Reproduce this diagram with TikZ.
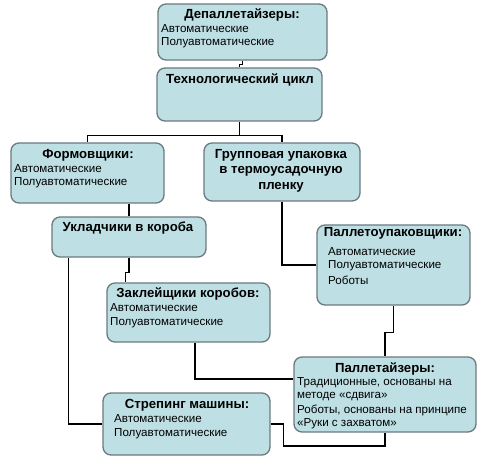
\documentclass[tikz,border=0pt]{standalone}
\usepackage{fontspec}
\setmainfont{Liberation Sans}
\usetikzlibrary{calc}
\definecolor{boxfill}{HTML}{BEE0E4}
\definecolor{boxline}{HTML}{6A7A7E}
\tikzset{
  box/.style={draw=boxline, line width=1.3pt, fill=boxfill, rounded corners=8pt, inner sep=0pt},
  ttl/.style={font=\bfseries\fontsize{13.2pt}{15pt}\selectfont, inner sep=0pt, anchor=center},
  itm/.style={font=\fontsize{11.6pt}{13pt}\selectfont, inner sep=0pt, anchor=west},
  conn/.style={draw=black, line width=1.4pt},
}
\begin{document}
\begin{tikzpicture}[x=1pt,y=-1pt]
\useasboundingbox (0,0) rectangle (483,460);
% boxes
\node[box, minimum width=169pt, minimum height=56pt] (dep) at (242.5,32) {};
\node[box, minimum width=165pt, minimum height=53pt] (tc) at (239.5,94.5) {};
\node[box, minimum width=153pt, minimum height=60pt] (form) at (87.5,173) {};
\node[box, minimum width=156pt, minimum height=58pt] (grp) at (282,172) {};
\node[box, minimum width=154pt, minimum height=40pt] (ukl) at (129,237) {};
\node[box, minimum width=153pt, minimum height=80pt] (pup) at (393.5,265) {};
\node[box, minimum width=163pt, minimum height=59pt] (zak) at (188.5,312.5) {};
\node[box, minimum width=182pt, minimum height=75pt] (pal) at (385,394.5) {};
\node[box, minimum width=167pt, minimum height=62pt] (str) at (186.5,424) {};
% connectors
\draw[conn] (dep.south) -- ++(0,4) -| (tc.north);
\draw[conn] (tc.south) -- ++(0,14) coordinate (split) -| (form.north);
\draw[conn] (split) -| (grp.north);
\draw[conn] (ukl.north) -- (ukl.north |- form.south);
\draw[conn] (ukl.south) -- ++(0,15) -| ($(zak.north west)+(19,0)$);
\draw[conn] ($(ukl.south west)+(17,0)$) |- (str.west);
\draw[conn] (grp.south) |- (pup.west);
\draw[conn] (pup.south) -- ++(0,27) -| (pal.north);
\draw[conn] ($(zak.south)+(6.5,0)$) |- ($(pal.west)+(0,-15.5)$);
\draw[conn] (str.east) -- ++(13,0) -- ++(0,22) -| (pal.south);
% texts
\node[ttl] (t1) at (242,15) {Депаллетайзеры:};
\node[itm] (t1a) at (161,29) {Автоматические};
\node[itm] (t1b) at (161,43) {Полуавтоматические};
\node[ttl] (t2) at (240,80) {Технологический цикл};
\node[ttl] (t3) at (88,155) {Формовщики:};
\node[itm] (t3a) at (14,169) {Автоматические};
\node[itm] (t3b) at (14,183) {Полуавтоматические};
\node[ttl] (t4a) at (281,155) {Групповая упаковка};
\node[ttl] (t4b) at (281,171) {в термоусадочную};
\node[ttl] (t4c) at (281,187) {пленку};
\node[ttl] (t5) at (128,228) {Укладчики в короба};
\node[ttl] (t6) at (393,233) {Паллетоупаковщики:};
\node[itm] (t6a) at (328,252) {Автоматические};
\node[itm] (t6b) at (328,266) {Полуавтоматические};
\node[itm] (t6c) at (328,280) {Роботы};
\node[ttl] (t7) at (188,294) {Заклейщики коробов:};
\node[itm] (t7a) at (110,308) {Автоматические};
\node[itm] (t7b) at (110,323) {Полуавтоматические};
\node[ttl] (t8) at (385,369) {Паллетайзеры:};
\node[itm] (t8a) at (297,383) {Традиционные, основаны на};
\node[itm] (t8b) at (297,397) {методе «сдвига»};
\node[itm] (t8c) at (297,410) {Роботы, основаны на принципе};
\node[itm] (t8d) at (297,424) {«Руки с захватом»};
\node[ttl] (t9) at (187,405) {Стрепинг машины:};
\node[itm] (t9a) at (114,419) {Автоматические};
\node[itm] (t9b) at (114,434) {Полуавтоматические};
\end{tikzpicture}
\end{document}
